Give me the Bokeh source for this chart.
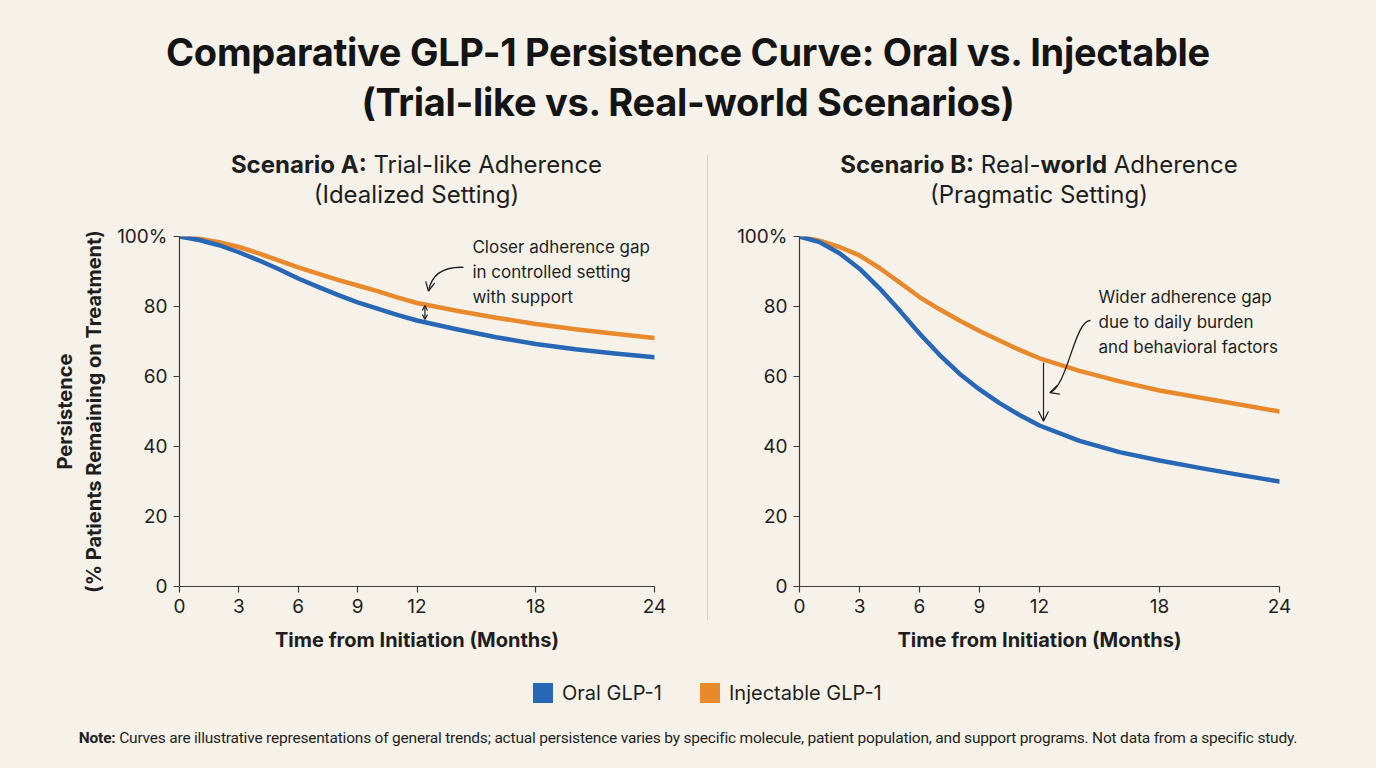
from bokeh.plotting import figure
from bokeh.models import Range1d, FixedTicker, Div, Label, Arrow, OpenHead
from bokeh.layouts import column, row
from bokeh.embed import file_html
from bokeh.resources import INLINE

# ---- data (persistence, % of patients still on treatment) ----
months = [0, 1, 2, 3, 4, 5, 6, 7, 8, 9, 10, 11, 12, 14, 16, 18, 20, 22, 24]
trial_oral = [100, 99.0, 97.5, 95.5, 93.2, 90.7, 88.0, 85.6, 83.3, 81.2, 79.4, 77.6, 76.0,
              73.5, 71.2, 69.3, 67.8, 66.6, 65.5]
trial_injectable = [100, 99.4, 98.4, 97.0, 95.2, 93.2, 91.2, 89.4, 87.6, 86.0, 84.4, 82.6, 81.0,
                    78.8, 76.8, 75.0, 73.5, 72.2, 71.0]
real_oral = [100, 98.4, 95.2, 90.8, 85.2, 78.9, 72.3, 66.2, 60.8, 56.3, 52.4, 49.0, 46.0,
             41.6, 38.4, 36.0, 33.9, 31.9, 30.0]
real_injectable = [100, 98.8, 97.0, 94.6, 91.0, 86.9, 82.7, 79.2, 76.0, 73.0, 70.3, 67.6, 65.2,
                   61.6, 58.6, 56.0, 54.0, 52.0, 50.0]
x_ticks = [0, 3, 6, 9, 12, 18, 24]
y_ticks = [0, 20, 40, 60, 80, 100]
y_tick_labels = {100: "100%"}
series_names = ["Oral GLP-1", "Injectable GLP-1"]

BG = "#F6F2E9"
INK = "#1E1E1E"
AXIS = "#3A3A3A"
BLUE = "#2767B5"
ORANGE = "#E8892C"
FONT = "Inter"


def make_panel(oral, injectable, frame_w, border_left, border_right, ylabel):
    p = figure(frame_width=frame_w, frame_height=350,
               min_border_left=border_left, min_border_right=border_right,
               min_border_top=21, min_border_bottom=74,
               x_range=Range1d(0, 24), y_range=Range1d(0, 100),
               output_backend="svg", toolbar_location=None,
               background_fill_color=BG, border_fill_color=BG,
               outline_line_color=None)
    p.grid.visible = False

    p.line(months, injectable, line_color=ORANGE, line_width=4.5, line_join="round", line_cap="round")
    p.line(months, oral, line_color=BLUE, line_width=4.5, line_join="round", line_cap="round")

    for ax in (p.xaxis[0], p.yaxis[0]):
        ax.axis_line_color = AXIS
        ax.axis_line_width = 1.2
        ax.major_tick_line_color = AXIS
        ax.major_tick_line_width = 1.2
        ax.major_tick_out = 6
        ax.major_tick_in = 0
        ax.minor_tick_line_color = None
        ax.major_label_text_font = FONT
        ax.major_label_text_font_size = "19px"
        ax.major_label_text_color = INK
        ax.axis_label_text_font = FONT
        ax.axis_label_text_font_size = "20px"
        ax.axis_label_text_font_style = "bold"
        ax.axis_label_text_color = INK

    p.xaxis.ticker = FixedTicker(ticks=x_ticks)
    p.xaxis.major_label_standoff = 6
    p.xaxis.axis_label = "Time from Initiation (Months)"
    p.xaxis.axis_label_standoff = 12

    p.yaxis.ticker = FixedTicker(ticks=y_ticks)
    p.yaxis.major_label_overrides = y_tick_labels
    p.yaxis.major_label_standoff = 6
    if ylabel:
        p.yaxis.axis_label = ylabel
        p.yaxis.axis_label_standoff = 8
    return p


def curved_arrow(p, x0, y0, cx0, cy0, cx1, cy1, x1, y1):
    p.bezier(x0=[x0], y0=[y0], x1=[x1], y1=[y1], cx0=[cx0], cy0=[cy0], cx1=[cx1], cy1=[cy1],
             line_color=INK, line_width=1.3)
    p.add_layout(Arrow(end=OpenHead(size=9, line_color=INK, line_width=1.3),
                       x_start=cx1, y_start=cy1, x_end=x1, y_end=y1, line_alpha=0))


def subtitle(html, offset, width):
    return Div(text=(f'<div style="width:{width}px;margin-left:{offset}px;text-align:center;'
                     f'font-family:{FONT};font-size:24px;line-height:30px;padding-top:10px;'
                     f'color:{INK}">{html}</div>'),
               width=offset + width + 40, height=75, margin=0)


# ---- Scenario A ----
pa = make_panel(trial_oral, trial_injectable, 475, 179, 50,
                "Persistence\n(% Patients Remaining on Treatment)")
i12 = months.index(12)
pa.add_layout(Arrow(start=OpenHead(size=5, line_color=INK, line_width=1.2),
                    end=OpenHead(size=5, line_color=INK, line_width=1.2),
                    x_start=12.4, y_start=trial_injectable[i12] - 0.7,
                    x_end=12.4, y_end=trial_oral[i12] + 0.3,
                    line_color=INK, line_width=1.2))
pa.add_layout(Label(x=14.8, y=99.9, text="Closer adherence gap\nin controlled setting\nwith support",
                    text_font=FONT, text_font_size="17px", text_color=INK,
                    text_baseline="top", text_align="left", text_line_height=1.25))
curved_arrow(pa, 14.35, 91.2, 13.45, 91.4, 12.75, 89.6, 12.58, 84.4)

# ---- Scenario B ----
pb = make_panel(real_oral, real_injectable, 480, 88, 97, None)
pb.add_layout(Arrow(end=OpenHead(size=10, line_color=INK, line_width=1.2),
                    x_start=12.2, y_start=real_injectable[i12] - 1.2,
                    x_end=12.2, y_end=real_oral[i12] + 1.2,
                    line_color=INK, line_width=1.2))
pb.add_layout(Label(x=14.95, y=85.6, text="Wider adherence gap\ndue to daily burden\nand behavioral factors",
                    text_font=FONT, text_font_size="17px", text_color=INK,
                    text_baseline="top", text_align="left", text_line_height=1.25))
curved_arrow(pb, 14.55, 76.0, 13.75, 76.2, 13.4, 57.0, 12.52, 55.4)

# ---- page pieces ----
title = Div(text=(f'<div style="width:1376px;text-align:center;font-family:{FONT};font-weight:700;'
                  f'font-size:38px;line-height:50px;padding-top:27px;color:#141414;letter-spacing:-0.3px">'
                  'Comparative GLP-1 Persistence Curve: Oral vs. Injectable<br>'
                  '(Trial-like vs. Real-world Scenarios)</div>'),
            width=1376, height=140, margin=0)

sub_a = subtitle("<b>Scenario A:</b> Trial-like Adherence<br>(Idealized Setting)", 179, 475)
sub_b = subtitle("<b>Scenario B:</b> Real-<b>world</b> Adherence<br>(Pragmatic Setting)", 88, 480)

separator = Div(text="", width=1, height=465, margin=(15, 3, 0, 3),
                styles={"background-color": "#DAD5CB"})

swatch = '<span style="display:inline-block;width:20px;height:20px;background:{};margin-right:9px"></span>'
legend = Div(text=(f'<div style="display:flex;align-items:center;padding-left:533px;padding-top:19px;'
                   f'font-family:{FONT};font-size:20px;color:{INK}">'
                   f'{swatch.format(BLUE)}<span style="margin-right:38px">{series_names[0]}</span>'
                   f'{swatch.format(ORANGE)}<span>{series_names[1]}</span></div>'),
             width=1376, height=55, margin=0)

note = Div(text=(f'<div style="width:1376px;text-align:center;font-family:Roboto;font-size:15.5px;'
                 f'line-height:18px;padding-top:14px;color:{INK};letter-spacing:-0.2px">'
                 '<b>Note:</b> Curves are illustrative representations of general trends; actual persistence '
                 'varies by specific molecule, patient population, and support programs. '
                 'Not data from a specific study.</div>'),
           width=1376, height=53, margin=0)

p = column(title,
           row(column(sub_a, pa, spacing=0), separator, column(sub_b, pb, spacing=0), spacing=0),
           legend, note,
           width=1376, height=768, spacing=0,
           styles={"background-color": BG})

open("out.html", "w").write(file_html(p, INLINE))
